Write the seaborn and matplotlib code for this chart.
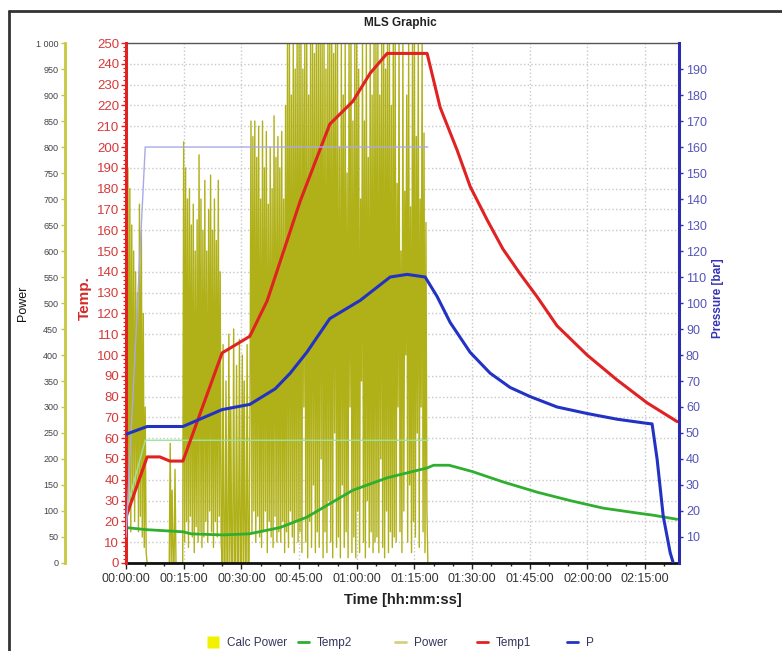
import numpy as np
import pandas as pd
import matplotlib
matplotlib.use("Agg")
import matplotlib.pyplot as plt
import seaborn as sns
from matplotlib.ticker import MultipleLocator, FixedLocator, FuncFormatter
from matplotlib.lines import Line2D

# ---- values (time in minutes) ----
temp1_t = [0, 5.5, 8.8, 11.4, 14.8, 25, 32.2, 36.7, 45.3, 50.5, 53, 59, 63.5, 67.9,
           78.3, 81.7, 86.1, 89.5, 93.9, 98, 102.5, 106.9, 112.1, 119.9, 127.7, 135.5, 143.3]
temp1 = [22, 51, 51, 49, 49, 101, 109, 126, 174, 199, 211, 222, 235.5, 245,
         245, 219, 198.5, 181, 165, 151, 139, 128, 114, 100, 88, 77, 68]

temp2_t = [0, 5.5, 14.8, 17, 25, 32, 40, 47, 59, 68, 78.3, 80, 84, 90, 98, 107,
           115.5, 124, 133, 137, 143.3]
temp2 = [17, 16, 15, 14, 13.5, 14, 17, 22, 35, 41, 45.7, 47, 47, 44, 39, 34,
         30, 26.4, 24, 23, 21]

press_t = [0, 5.5, 14.8, 25, 32.2, 38.8, 42.7, 47, 53, 60.9, 63.5, 68.7, 73.1, 77.8,
           80.9, 84.3, 89.5, 94.7, 99.9, 105.1, 112.1, 119.9, 127.7, 135.5, 136.8,
           138.1, 139.7, 141.5, 142.3]
press = [49.5, 52.5, 52.5, 59, 61, 67, 73, 81, 94, 101, 104, 110, 111, 110,
         102.5, 92.5, 81, 73, 67.5, 64, 60, 57.5, 55.3, 53.7, 53.5,
         40, 18, 4, 0]

# set points (light lines, not in legend)
press_set_t = [0, 5, 78.5]
press_set = [10, 160, 160]
temp_set_t = [0, 5, 78.5]
temp_set = [25, 59, 59]

# power, one sample every 0.25 min, rows of 5 minutes
power_step = 0.25
power = [
    830, 40, 760, 100, 720, 60, 650, 120, 600, 80, 560, 150, 520, 60, 690, 90, 640, 50, 480, 30,
    300, 20, 0, 0, 0, 0, 0, 0, 0, 0, 0, 0, 0, 0, 0, 0, 0, 0, 0, 0,
    0, 0, 0, 0, 0, 0, 230, 0, 140, 0, 0, 180, 0, 0, 0, 0, 0, 0, 0, 0,
    810, 40, 760, 80, 700, 30, 720, 90, 650, 50, 690, 20, 600, 70, 660, 40, 785, 60, 700, 30,
    640, 50, 736, 80, 600, 40, 680, 100, 746, 60, 640, 30, 700, 80, 620, 50, 736, 90, 560, 40,
    0, 420, 0, 0, 350, 0, 0, 440, 0, 300, 0, 0, 450, 0, 0, 380, 0, 0, 430, 0,
    0, 400, 0, 350, 0, 0, 420, 0, 0, 300, 850, 60, 820, 100, 850, 40, 780, 90, 840, 50,
    700, 30, 850, 60, 760, 100, 830, 20, 690, 80, 800, 50, 720, 30, 860, 90, 780, 40, 820, 60,
    760, 40, 830, 80, 700, 20, 880, 60, 1000, 30, 1000, 100, 900, 50, 1000, 20, 950, 80, 1000, 40,
    1000, 60, 1000, 20, 950, 300, 1000, 40, 1000, 10, 900, 80, 1000, 30, 1000, 150, 980, 20, 1000, 60,
    1000, 30, 1000, 200, 1000, 10, 1000, 60, 950, 20, 1000, 120, 1000, 40, 1000, 10, 980, 250, 1000, 30,
    1000, 50, 800, 10, 1000, 150, 900, 30, 1000, 60, 750, 10, 1000, 300, 1000, 20, 850, 50, 1000, 10,
    1000, 100, 950, 20, 700, 350, 1000, 40, 850, 10, 1000, 120, 780, 30, 1000, 60, 900, 20, 1000, 40,
    1000, 50, 1000, 20, 900, 200, 1000, 30, 1000, 10, 950, 100, 1000, 20, 1000, 60, 880, 30, 1000, 50,
    1000, 40, 730, 300, 1000, 60, 600, 20, 1000, 100, 715, 400, 900, 40, 1000, 150, 685, 20, 1000, 80,
    1000, 50, 820, 250, 1000, 30, 700, 300, 1000, 60, 827, 20, 655, 100, 0,
]

x_ticks = [0, 15, 30, 45, 60, 75, 90, 105, 120, 135]

RED = "#e02222"
GREEN = "#2fae2f"
BLUE = "#2233c4"
OLIVE = "#b0b018"

df_t1 = pd.DataFrame({"t": temp1_t, "v": temp1})
df_t2 = pd.DataFrame({"t": temp2_t, "v": temp2})
df_p = pd.DataFrame({"t": press_t, "v": press})
df_pow = pd.DataFrame({"t": np.arange(len(power)) * power_step, "v": power})

sns.set_theme(style="white")
plt.rcParams["font.family"] = ["Liberation Sans", "DejaVu Sans"]

fig = plt.figure(figsize=(7.82, 6.51), dpi=100)
ax_pow = fig.add_axes([0.1611, 0.1352, 0.7072, 0.7987])
ax = ax_pow.twinx()
ax_p = ax_pow.twinx()

# power (bottom layer)
sns.lineplot(data=df_pow, x="t", y="v", ax=ax_pow, color=OLIVE, linewidth=1.0, legend=False)
# temperature set point, temps
sns.lineplot(x=temp_set_t, y=temp_set, ax=ax, color="#9ee39e", linewidth=1.0, legend=False)
sns.lineplot(data=df_t2, x="t", y="v", ax=ax, color=GREEN, linewidth=2, legend=False)
sns.lineplot(data=df_t1, x="t", y="v", ax=ax, color=RED, linewidth=2.2, legend=False)
# pressure
sns.lineplot(x=press_set_t, y=press_set, ax=ax_p, color="#a9a9e6", linewidth=1.0, legend=False)
sns.lineplot(data=df_p, x="t", y="v", ax=ax_p, color=BLUE, linewidth=2.2, legend=False)

# x axis
ax_pow.set_xlim(0, 143.8)
ax_pow.xaxis.set_major_locator(FixedLocator(x_ticks))
ax_pow.xaxis.set_minor_locator(MultipleLocator(5))


def hms(m, pos):
    s = int(round(m * 60))
    return f"{s // 3600:02d}:{s % 3600 // 60:02d}:{s % 60:02d}"


ax_pow.xaxis.set_major_formatter(FuncFormatter(hms))
ax_pow.tick_params(axis="x", which="major", bottom=True, direction="out", length=4, width=1,
                   color="#222222", labelsize=9, labelcolor="#333333", pad=3)
ax_pow.tick_params(axis="x", which="minor", bottom=True, direction="out", length=2.5, width=1,
                   color="#222222")
ax_pow.set_xlabel("Time [hh:mm:ss]", fontsize=10.5, fontweight="bold", color="#222222", labelpad=6)

# power axis (outer left)
ax_pow.set_ylim(0, 1000)
ax_pow.yaxis.set_major_locator(MultipleLocator(50))
ax_pow.yaxis.set_major_formatter(FuncFormatter(lambda v, p: f"{int(v):,}".replace(",", " ")))
ax_pow.yaxis.set_minor_locator(MultipleLocator(40))
ax_pow.tick_params(axis="y", which="major", left=True, direction="out", length=3, width=1,
                   color="#c8c840", labelsize=6.5, labelcolor="#444444", pad=2)
ax_pow.tick_params(axis="y", which="minor", length=0)
ax_pow.spines["left"].set_position(("axes", -0.110))
ax_pow.spines["left"].set_color("#c8c83c")
ax_pow.spines["left"].set_linewidth(2)
ax_pow.spines["bottom"].set_color("#111111")
ax_pow.spines["bottom"].set_linewidth(2)
ax_pow.spines["top"].set_color("#555555")
ax_pow.spines["top"].set_linewidth(1)
ax_pow.spines["right"].set_visible(False)
ax_pow.set_ylabel("Power", fontsize=9, color="#111111")
ax_pow.yaxis.set_label_coords(-0.175, 0.5)
# grid follows x majors and temperature steps (40 power = 10 degC)
ax_pow.grid(which="major", axis="x", color="#c8c8c8", linestyle=":", linewidth=1)
ax_pow.grid(which="minor", axis="y", color="#c8c8c8", linestyle=":", linewidth=1)

# temperature axis
ax.set_ylim(0, 250)
ax.yaxis.tick_left()
ax.yaxis.set_label_position("left")
ax.yaxis.set_major_locator(MultipleLocator(10))
ax.yaxis.set_minor_locator(MultipleLocator(2))
ax.tick_params(axis="y", which="major", left=True, right=False, direction="out", length=3.5,
               width=1, color=RED, labelsize=9.5, labelcolor="#d63a3a", pad=1.5)
ax.tick_params(axis="y", which="minor", left=True, right=False, direction="out", length=2,
               width=0.8, color=RED)
for s in ["top", "bottom", "right"]:
    ax.spines[s].set_visible(False)
ax.spines["left"].set_color(RED)
ax.spines["left"].set_linewidth(2.2)
ax.set_ylabel("Temp.", fontsize=11, fontweight="bold", color="#d42a2a")
ax.yaxis.set_label_coords(-0.062, 0.51)

# pressure axis
ax_p.set_ylim(0, 200)
ax_p.yaxis.set_major_locator(FixedLocator(list(range(10, 200, 10))))
ax_p.tick_params(axis="y", which="major", right=True, direction="out", length=3, width=1,
                 color=BLUE, labelsize=9, labelcolor="#5555b8", pad=2)
for s in ["top", "bottom", "left"]:
    ax_p.spines[s].set_visible(False)
ax_p.spines["right"].set_color("#2a2ab0")
ax_p.spines["right"].set_linewidth(2.2)
ax_p.set_ylabel("Pressure [bar]", fontsize=8.5, fontweight="bold", color="#3535b5")
ax_p.yaxis.set_label_coords(1.0597, 0.51)

# title and outer frame
fig.text(0.512, 1 - 23 / 651, "MLS Graphic", ha="center", va="center",
         fontsize=8.5, fontweight="bold", color="#222222")
fig.add_artist(Line2D([9 / 782, 1], [1 - 11 / 651] * 2, color="#333333", lw=2,
                      transform=fig.transFigure))
fig.add_artist(Line2D([9 / 782] * 2, [0, 1 - 11 / 651], color="#333333", lw=2,
                      transform=fig.transFigure))

# legend: one entry per slot, fixed column starts like the original control
legend_items = [
    (Line2D([], [], linestyle="None", marker="s", markersize=9, markerfacecolor="#f2f200",
            markeredgecolor="none"), "Calc Power", 208),
    (Line2D([], [], color=GREEN, lw=2), "Temp2", 298),
    (Line2D([], [], color="#d2d283", lw=2), "Power", 395),
    (Line2D([], [], color=RED, lw=2), "Temp1", 477),
    (Line2D([], [], color=BLUE, lw=2), "P", 567),
]
for h, lab, xpx in legend_items:
    fig.legend([h], [lab], loc="center left", bbox_to_anchor=(xpx / 782, 1 - 643 / 651),
               frameon=False, handlelength=0.9, handletextpad=0.7, borderpad=0,
               borderaxespad=0, fontsize=8.5, labelcolor="#34345c")

fig.savefig("out.png", dpi=100)
